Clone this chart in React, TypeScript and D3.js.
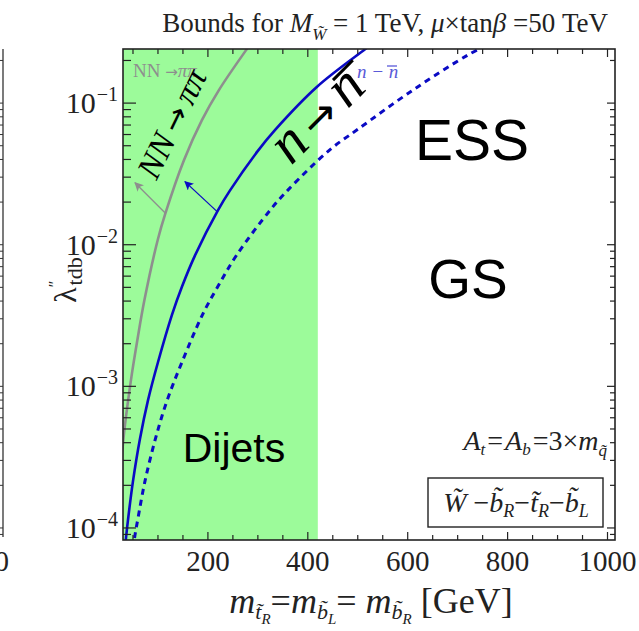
import React from "react";
import * as d3 from "d3";

// Canvas and frame
const W = 639;
const H = 631;
const FRAME = { left: 123, right: 615, top: 49, bottom: 540 };

// Axis domains: squark mass [GeV] and coupling lambda''
const massDomain = [30, 1015];
const lambdaDomain = [Math.pow(10, -4.085), Math.pow(10, -0.618)];

// Tick marks
const xMajorTicks = [200, 400, 600, 800, 1000];
const xMinorTicks = [50, 100, 150, 250, 300, 350, 450, 500, 550, 650, 700, 750, 850, 900, 950];
const yMajorExponents = [-4, -3, -2, -1];

// Dijet exclusion reaches up to this mass
const dijetMaxMass = 420;

// NN -> pi pi bound (grey)
const nnMass = [27, 32, 38.4, 48, 58.6, 73, 99.5, 115, 152, 188, 222, 278, 298];
const nnLambda = [3.0e-4, 4.65e-4, 7.1e-4, 1.24e-3, 2.11e-3, 4.08e-3, 1.08e-2, 1.67e-2, 3.95e-2, 7.58e-2, 0.1236, 0.241, 0.302];

// n - nbar bound, solid
const nnbarMass = [33, 36, 40, 50, 64, 80, 100, 128, 148, 174, 220, 244, 300, 335, 418, 514, 540];
const nnbarLambda = [6.6e-5, 8.5e-5, 1.14e-4, 2.14e-4, 4.27e-4, 7.96e-4, 1.48e-3, 3.2e-3, 5.05e-3, 8.38e-3, 1.75e-2, 2.41e-2, 4.6e-2, 6.5e-2, 0.13, 0.239, 0.28];

// n - nbar bound, dashed
const nnbarDashMass = [50, 54, 60, 74, 95, 118, 148, 189, 219, 258, 326, 361, 444, 498, 611, 721, 780];
const nnbarDashLambda = [7.1e-5, 8.9e-5, 1.17e-4, 2.14e-4, 4.27e-4, 7.9e-4, 1.48e-3, 3.2e-3, 5.0e-3, 8.5e-3, 1.78e-2, 2.45e-2, 4.68e-2, 6.45e-2, 0.124, 0.219, 0.28];

// Arrows pointing to the allowed side: [mass, lambda] from -> to
const nnArrow = [[115, 1.67e-2], [54, 2.74e-2]];
const nnbarArrow = [[218, 1.72e-2], [154, 2.79e-2]];

const SERIF = "'Liberation Serif', 'DejaVu Serif', serif";
const SANS = "'Liberation Sans', Arial, sans-serif";
const ARROWFONT = "'DejaVu Sans', sans-serif";
const BLUE = "#0a0ac4";
const LABELBLUE = "#5a5ad8";
const GREY = "#8e8e8e";
const GREEN = "#9cfb9a";

export default function App() {
  const x = d3.scaleLinear().domain(massDomain).range([FRAME.left, FRAME.right]);
  const y = d3.scaleLog().domain(lambdaDomain).range([FRAME.bottom, FRAME.top]);

  const line = d3
    .line<[number, number]>()
    .x((d) => x(d[0]))
    .y((d) => y(d[1]))
    .curve(d3.curveCatmullRom.alpha(0.5));

  const zip = (a: number[], b: number[]) => a.map((v, i) => [v, b[i]] as [number, number]);

  const yTicks = y.ticks();
  const isMajor = (v: number) => Math.abs(Math.log10(v) - Math.round(Math.log10(v))) < 1e-6;

  const fw = FRAME.right - FRAME.left;
  const fh = FRAME.bottom - FRAME.top;

  const arrowPath = (a: number[][]) => `M${x(a[0][0])},${y(a[0][1])}L${x(a[1][0])},${y(a[1][1])}`;

  return (
    <svg
      width={W}
      height={H}
      viewBox={`0 0 ${W} ${H}`}
      style={{ position: "absolute", left: 0, top: 0, background: "#fff" }}
    >
      <defs>
        <clipPath id="plotClip">
          <rect x={FRAME.left} y={FRAME.top} width={fw} height={fh} />
        </clipPath>
        <marker id="headGrey" viewBox="0 0 10 10" refX="9" refY="5" markerWidth="7" markerHeight="7" orient="auto">
          <path d="M0,0L10,5L0,10L2.5,5Z" fill={GREY} />
        </marker>
        <marker id="headBlue" viewBox="0 0 10 10" refX="9" refY="5" markerWidth="7" markerHeight="7" orient="auto">
          <path d="M0,0L10,5L0,10L2.5,5Z" fill={BLUE} />
        </marker>
      </defs>

      <rect x={0} y={0} width={W} height={H} fill="#fff" />

      {/* edge of the neighbouring panel */}
      <line x1={3} x2={3} y1={FRAME.top} y2={FRAME.bottom - 3} stroke="#333" strokeWidth={1.3} />
      {yTicks.map((t, i) => (
        <line key={`lp${i}`} x1={-6} x2={3} y1={y(t)} y2={y(t)} stroke="#333" strokeWidth={1} />
      ))}
      <text x={9} y={571} textAnchor="end" fontFamily={SERIF} fontSize={29} fill="#222">
        1000
      </text>

      {/* dijet excluded region */}
      <rect
        x={x(massDomain[0])}
        y={FRAME.top}
        width={x(dijetMaxMass) - x(massDomain[0])}
        height={fh}
        fill={GREEN}
      />

      <g clipPath="url(#plotClip)">
        <path d={line(zip(nnMass, nnLambda)) || ""} fill="none" stroke={GREY} strokeWidth={2.6} />
        <path d={line(zip(nnbarMass, nnbarLambda)) || ""} fill="none" stroke={BLUE} strokeWidth={2.6} />
        <path
          d={line(zip(nnbarDashMass, nnbarDashLambda)) || ""}
          fill="none"
          stroke={BLUE}
          strokeWidth={3}
          strokeDasharray="6 5"
        />
      </g>

      <path d={arrowPath(nnArrow)} stroke={GREY} strokeWidth={1.3} fill="none" markerEnd="url(#headGrey)" />
      <path d={arrowPath(nnbarArrow)} stroke={BLUE} strokeWidth={1.3} fill="none" markerEnd="url(#headBlue)" />

      {/* frame */}
      <rect x={FRAME.left} y={FRAME.top} width={fw} height={fh} fill="none" stroke="#222" strokeWidth={1.6} />

      {/* x ticks, bottom and top */}
      {xMajorTicks.concat(xMinorTicks).map((t, i) => {
        const len = xMajorTicks.includes(t) ? 8 : 5;
        return (
          <g key={`xt${i}`} stroke="#222" strokeWidth={1.2}>
            <line x1={x(t)} x2={x(t)} y1={FRAME.bottom} y2={FRAME.bottom - len} />
            <line x1={x(t)} x2={x(t)} y1={FRAME.top} y2={FRAME.top + len} />
          </g>
        );
      })}
      {xMajorTicks.map((t) => (
        <text key={`xl${t}`} x={x(t)} y={571} textAnchor="middle" fontFamily={SERIF} fontSize={29} fill="#222">
          {t}
        </text>
      ))}

      {/* y ticks, left and right */}
      {yTicks.map((t, i) => {
        const major = isMajor(t);
        return (
          <g key={`yt${i}`} stroke="#222" strokeWidth={1.2}>
            <line x1={FRAME.left} x2={FRAME.left + (major ? 13 : 8)} y1={y(t)} y2={y(t)} />
            <line x1={FRAME.right} x2={FRAME.right - (major ? 8 : 5)} y1={y(t)} y2={y(t)} />
          </g>
        );
      })}
      {yMajorExponents.map((e) => (
        <text
          key={`yl${e}`}
          x={FRAME.left - 5}
          y={y(Math.pow(10, e)) + 10}
          textAnchor="end"
          fontFamily={SERIF}
          fontSize={30}
          fill="#222"
        >
          10
          <tspan fontSize={20} dy={-12} dx={1}>
            {"\u2212" + Math.abs(e)}
          </tspan>
        </text>
      ))}

      {/* axis titles */}
      <text
        transform="translate(76,280) rotate(-90)"
        textAnchor="middle"
        fontFamily={SERIF}
        fontSize={32}
        fill="#222"
      >
        λ<tspan fontSize={16} dy={-16}>{"\u2033"}</tspan>
        <tspan fontSize={22} dx={-5} dy={22}>
          tdb
        </tspan>
      </text>

      <text x={371} y={613} textAnchor="middle" fontFamily={SERIF} fontSize={36} fill="#222">
        <tspan fontStyle="italic">m</tspan>
        <tspan fontStyle="italic" fontSize={22} dy={6}>{"t\u0303"}</tspan>
        <tspan fontStyle="italic" fontSize={15} dy={5}>R</tspan>
        <tspan dy={-11}>=</tspan>
        <tspan fontStyle="italic">m</tspan>
        <tspan fontStyle="italic" fontSize={22} dy={6}>{"b\u0303"}</tspan>
        <tspan fontStyle="italic" fontSize={15} dy={5}>L</tspan>
        <tspan dy={-11}>{"= "}</tspan>
        <tspan fontStyle="italic">m</tspan>
        <tspan fontStyle="italic" fontSize={22} dy={6}>{"b\u0303"}</tspan>
        <tspan fontStyle="italic" fontSize={15} dy={5}>R</tspan>
        <tspan dy={-11}>{" [GeV]"}</tspan>
      </text>

      {/* title */}
      <text x={608} y={32} textAnchor="end" fontFamily={SERIF} fontSize={27} fill="#222">
        {"Bounds for "}
        <tspan fontStyle="italic">M</tspan>
        <tspan fontStyle="italic" fontSize={17} dy={8}>{"W\u0303"}</tspan>
        <tspan dy={-8}>{" = 1 TeV, "}</tspan>
        <tspan fontStyle="italic">μ</tspan>
        {"×tan"}
        <tspan fontStyle="italic">β</tspan>
        {" =50 TeV"}
      </text>

      {/* small curve labels */}
      <text x={133} y={77} fontFamily={SERIF} fontSize={19} fill={GREY}>
        NN <tspan fontFamily={ARROWFONT} fontSize={15}>→</tspan>
        <tspan fontStyle="italic">ππ</tspan>
      </text>
      <text x={357} y={78} fontFamily={SERIF} fontSize={19} fill={LABELBLUE} fontStyle="italic">
        {"n \u2212 n"}
      </text>
      <line x1={387} x2={397} y1={66} y2={66} stroke={LABELBLUE} strokeWidth={1.3} />

      {/* large rotated annotations */}
      <g transform="translate(173,122) rotate(-64)">
        <text x={-2} y={11} textAnchor="middle" fontFamily={SERIF} fontSize={34} fill="#000">
          <tspan fontStyle="italic">NN</tspan>
          <tspan fontFamily={ARROWFONT} fontSize={30} dx={6}>→</tspan>
          <tspan fontStyle="italic" dx={6}>ππ</tspan>
        </text>
      </g>
      <g transform="translate(321,119) rotate(-45)">
        <text x={0} y={12} textAnchor="middle" fontFamily={SERIF} fontSize={58} fill="#000">
          <tspan fontStyle="italic">n</tspan>
          <tspan fontFamily={ARROWFONT} fontSize={42} dx={8}>→</tspan>
          <tspan fontStyle="italic" dx={8}>n</tspan>
        </text>
        <line x1={36} x2={64} y1={-19} y2={-19} stroke="#000" strokeWidth={3} />
      </g>

      {/* region labels */}
      <text x={472} y={160} textAnchor="middle" fontFamily={SANS} fontSize={57} fill="#000">
        ESS
      </text>
      <text x={468} y={298} textAnchor="middle" fontFamily={SANS} fontSize={55} fill="#000">
        GS
      </text>
      <text x={234} y={462} textAnchor="middle" fontFamily={SANS} fontSize={41} fill="#000">
        Dijets
      </text>

      {/* parameter notes */}
      <text x={607} y={450} textAnchor="end" fontFamily={SERIF} fontSize={28} fill="#222" fontStyle="italic">
        A<tspan fontSize={17} dy={5}>t</tspan>
        <tspan fontStyle="normal" dy={-5} dx={2}>=</tspan>
        <tspan dx={2}>A</tspan>
        <tspan fontSize={17} dy={5}>b</tspan>
        <tspan fontStyle="normal" dy={-5} dx={2}>=3×</tspan>m<tspan fontSize={17} dy={6}>{"q\u0303"}</tspan>
      </text>
      <rect x={428} y={478} width={175} height={49} fill="#fff" stroke="#222" strokeWidth={1.4} />
      <text x={516} y={512} textAnchor="middle" fontFamily={SERIF} fontSize={28} fill="#222" fontStyle="italic">
        {"W\u0303"}
        <tspan fontStyle="normal">{" \u2212"}</tspan>
        {"b\u0303"}
        <tspan fontSize={18} dy={5}>R</tspan>
        <tspan fontStyle="normal" dy={-5}>{"\u2212"}</tspan>
        {"t\u0303"}
        <tspan fontSize={18} dy={5}>R</tspan>
        <tspan fontStyle="normal" dy={-5}>{"\u2212"}</tspan>
        {"b\u0303"}
        <tspan fontSize={18} dy={5}>L</tspan>
      </text>
    </svg>
  );
}
